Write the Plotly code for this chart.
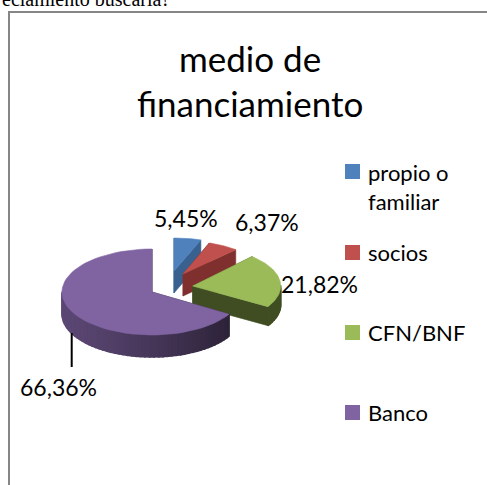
import math
import plotly.graph_objects as go

categories = ["propio o<br>familiar", "socios", "CFN/BNF", "Banco"]
values = [5.45, 6.37, 21.82, 66.36]
labels = ["5,45%", "6,37%", "21,82%", "66,36%"]
colors = ["#4F81BD", "#C0504D", "#9BBB59", "#8064A2"]
side_colors = ["#38618F", "#7F302E", "#404D22", None]
title_lines = ["medio de", "financiamiento"]
header = "eciamiento buscaría?"

W, H = 487, 485
# exploded-slice layout: centre x, centre y, x radius, y radius, depth
GEOM = [(174, 271, 80, 33, 22), (183, 274, 78, 33, 22), (192.7, 286, 88, 40, 19), (152, 292, 90, 43, 22)]
LABEL_POS = [(186, 218), (267, 222), (319, 284), (58, 387)]
LEGEND_X = 352.5
LEGEND_Y = [171.5, 252.5, 332.5, 412.5]
LEGEND_TEXT_Y = [187, 252, 332, 412]

fig = go.Figure()


def pt(g, a, dz=0.0):
    cx, cy, rx, ry, _ = g
    return cx + rx * math.sin(a), cy - ry * math.cos(a) + dz


def poly(points, color, lw=0.6):
    xs = [p[0] for p in points] + [points[0][0]]
    ys = [p[1] for p in points] + [points[0][1]]
    fig.add_trace(go.Scatter(x=xs, y=ys, mode="lines", fill="toself", fillcolor=color,
                             line=dict(width=lw, color=color), hoverinfo="skip", showlegend=False))


def mix(f):
    base = (0x80, 0x64, 0xA2)
    return "rgb(%d,%d,%d)" % tuple(int(c * f) for c in base)


total = sum(values)
start = 0.0
for i, v in enumerate(values):
    g = GEOM[i]
    a0 = start
    a1 = start + v / total * 2 * math.pi
    start = a1
    d = g[4]
    apex = (g[0], g[1])
    side = side_colors[i] or mix(0.35)
    # cut faces
    for a in (a0, a1):
        e = pt(g, a)
        poly([apex, e, (e[0], e[1] + d), (apex[0], apex[1] + d)], side)
    # outer wall
    n = max(4, int((a1 - a0) / 0.05))
    for k in range(n):
        b0 = a0 + (a1 - a0) * k / n
        b1 = a0 + (a1 - a0) * (k + 1) / n
        mid = (b0 + b1) / 2
        if math.cos(mid) > 0.02:
            continue
        if side_colors[i]:
            col = side
        else:
            # lit from the left, falling into shade toward the right
            t = (math.sin(mid) + 1) / 2
            col = mix(0.72 - 0.40 * t ** 1.2)
        p0, p1 = pt(g, b0), pt(g, b1)
        poly([p0, p1, (p1[0], p1[1] + d), (p0[0], p0[1] + d)], col, lw=1.5)
    # top face
    arc = [pt(g, a0 + (a1 - a0) * k / 60) for k in range(61)]
    poly([apex] + arc, colors[i])

# leader line
fig.add_trace(go.Scatter(x=[71.7, 71.7], y=[333, 367], mode="lines", line=dict(color="#000000", width=2),
                         hoverinfo="skip", showlegend=False))

# legend
fig.add_trace(go.Scatter(x=[LEGEND_X] * 4, y=LEGEND_Y, mode="markers",
                         marker=dict(symbol="square", size=15, color=colors), hoverinfo="skip", showlegend=False))

font = "Lato, Carlito, Calibri, sans-serif"
ann = []
for (x, y), t in zip(LABEL_POS, labels):
    ann.append(dict(x=x, y=y, text=t, showarrow=False, xanchor="center", yanchor="middle",
                    font=dict(family=font, size=23, color="#000000")))
for y, t in zip(LEGEND_TEXT_Y, categories):
    ann.append(dict(x=366, y=y, text=t, showarrow=False, xanchor="left", yanchor="middle", align="left",
                    font=dict(family=font, size=22, color="#000000")))
for y, t in zip([58, 103], title_lines):
    ann.append(dict(x=250, y=y, text=t, showarrow=False, xanchor="center", yanchor="middle",
                    font=dict(family=font, size=35, color="#000000")))
ann.append(dict(x=0, y=0, yshift=1, text=header, showarrow=False, xanchor="left", yanchor="middle",
                font=dict(family="Liberation Serif, Times New Roman, serif", size=20, color="#000000")))

fig.update_layout(
    width=W, height=H, margin=dict(l=0, r=0, t=0, b=0), paper_bgcolor="#FFFFFF", plot_bgcolor="#FFFFFF",
    xaxis=dict(range=[0, W], visible=False, fixedrange=True),
    yaxis=dict(range=[H, 0], visible=False, fixedrange=True),
    annotations=ann, showlegend=False,
    shapes=[dict(type="path", path=f"M 9 {H} L 9 12 L {W} 12", line=dict(color="#868686", width=2), layer="below")],
)
fig.write_html("out.html", config=dict(displayModeBar=False),
               post_script="document.body.style.margin='0';document.body.style.overflow='hidden';")
